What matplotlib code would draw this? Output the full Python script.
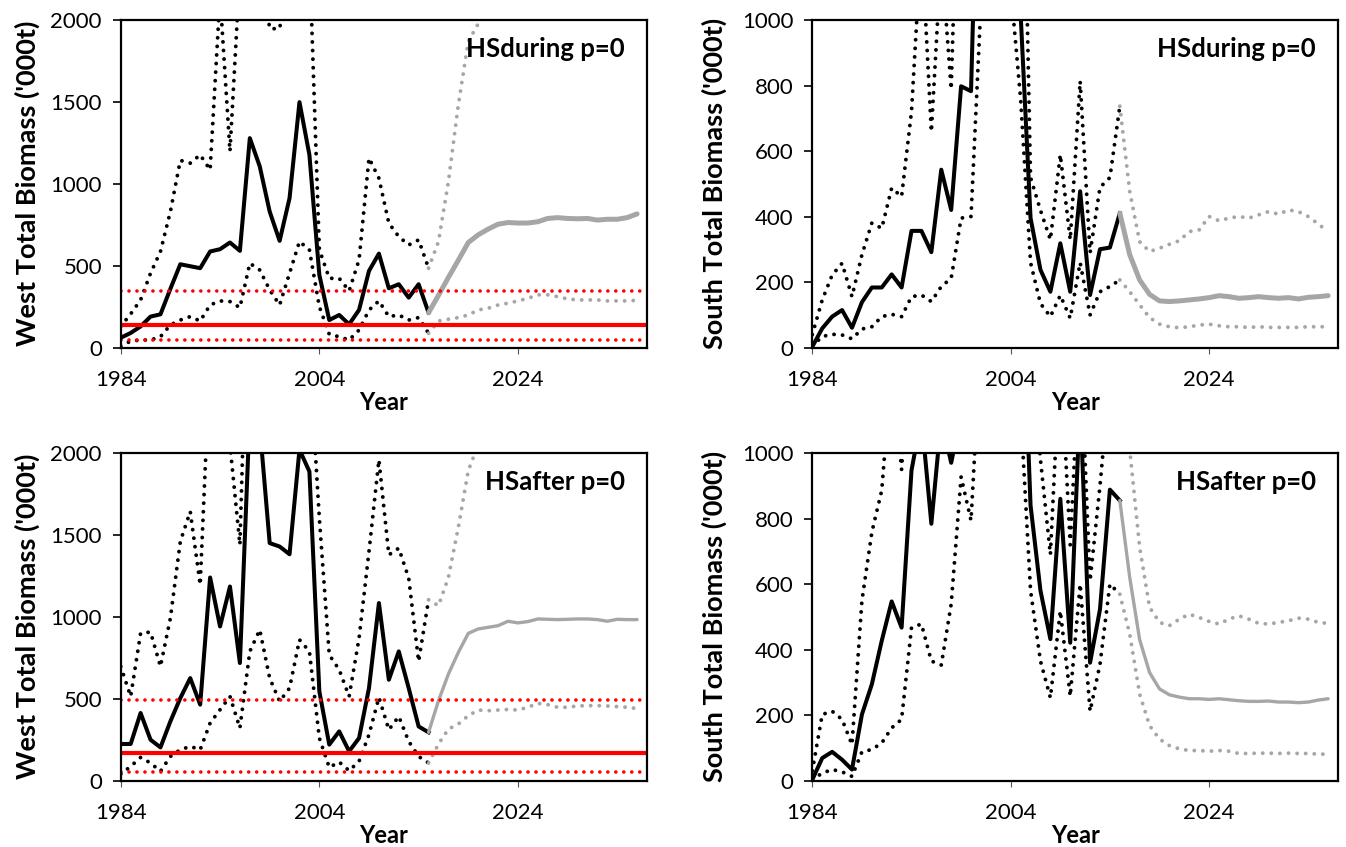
import matplotlib
matplotlib.use('Agg')
import matplotlib.pyplot as plt

plt.rcParams['font.family'] = ['Lato', 'DejaVu Sans']

hist_years = list(range(1984, 2016))
proj_years = list(range(2015, 2037))

# West total biomass, HSduring
wd_mid = [61, 90, 130, 190, 204, 360, 510, 498, 486, 588, 602, 643, 592, 1281, 1108, 832,
          653, 914, 1501, 1179, 445, 169, 200, 143, 231, 469, 575, 363, 388, 306, 388, 214]
wd_hi = [130, 206, 292, 455, 588, 832, 1145, 1128, 1179, 1087, 2150, 1200, 2300, 2600, 2400, 1950,
         1950, 2300, 2700, 2400, 600, 424, 424, 347, 537, 1159, 1036, 761, 679, 628, 659, 486]
wd_lo = [10, 40, 47, 47, 67, 139, 169, 190, 163, 261, 286, 282, 245, 516, 475, 353,
         261, 455, 649, 598, 251, 82, 67, 47, 108, 230, 286, 190, 200, 169, 184, 88]
wd_pmid = [214, 320, 430, 535, 643, 690, 725, 755, 765, 762, 762, 770, 790, 795, 790, 788,
           790, 780, 785, 785, 795, 818]
wd_phi = [486, 649, 1016, 1485, 1873, 1980, 2150, 2300, 2400, 2500, 2550, 2600, 2650, 2650,
          2700, 2700, 2700, 2700, 2750, 2750, 2750, 2750]
wd_plo = [88, 163, 174, 184, 200, 231, 241, 261, 272, 286, 302, 323, 323, 312, 298, 292,
          292, 292, 286, 286, 286, 290]
wd_ref = [140, 345, 45]

# South total biomass, HSduring
sd_mid = [3, 59, 95, 115, 61, 139, 184, 184, 224, 184, 357, 357, 292, 544, 421, 799,
          784, 1900, 2600, 2500, 2000, 1020, 396, 238, 171, 319, 171, 478, 161, 301, 306, 411]
sd_hi = [40, 146, 222, 258, 156, 284, 381, 365, 488, 462, 722, 1250, 660, 1200, 790, 1800,
         2500, 3000, 3000, 2800, 1800, 2000, 520, 420, 330, 590, 330, 815, 290, 490, 520, 738]
sd_lo = [5, 34, 41, 39, 27, 57, 64, 95, 102, 95, 156, 161, 141, 187, 212, 396,
         401, 1050, 1500, 1600, 1100, 760, 260, 135, 95, 160, 90, 260, 100, 171, 187, 207]
sd_pmid = [411, 284, 207, 163, 143, 141, 143, 146, 149, 153, 159, 156, 151, 153, 156, 153,
           151, 153, 149, 154, 156, 159]
sd_phi = [738, 477, 324, 294, 304, 316, 327, 355, 360, 401, 388, 396, 401, 396, 406, 416,
          408, 421, 416, 401, 378, 355]
sd_plo = [207, 171, 131, 92, 72, 64, 61, 64, 69, 72, 67, 64, 64, 62, 64, 62,
          62, 62, 62, 64, 64, 64]

# West total biomass, HSafter
wa_mid = [224, 224, 413, 250, 203, 362, 504, 626, 464, 1240, 941, 1185, 718, 2250, 2160, 1450,
          1429, 1382, 2020, 1887, 545, 220, 301, 179, 260, 565, 1084, 616, 789, 565, 331, 295]
wa_hi = [697, 514, 900, 907, 697, 992, 1460, 1643, 1195, 2600, 2400, 2050, 1440, 3500, 2800, 2900,
         2800, 2700, 2600, 2600, 1602, 768, 677, 514, 870, 1399, 1958, 1378, 1419, 1236, 728, 1104]
wa_lo = [40, 87, 142, 108, 57, 148, 189, 209, 189, 352, 433, 514, 321, 789, 921, 626,
         484, 565, 860, 789, 260, 81, 114, 61, 118, 281, 508, 311, 392, 240, 148, 108]
wa_pmid = [295, 488, 651, 783, 899, 926, 936, 946, 973, 963, 971, 987, 985, 983, 985, 987,
           987, 983, 973, 985, 983, 983]
wa_phi = [1104, 1068, 1241, 1547, 1893, 2050, 2300, 2500, 2600, 2700, 2750, 2800, 2800, 2850,
          2850, 2850, 2900, 2900, 2900, 2900, 2950, 2950]
wa_plo = [108, 224, 315, 346, 397, 431, 427, 431, 435, 431, 448, 472, 464, 448, 448, 456,
          458, 458, 456, 452, 448, 440]
wa_ref = [167, 494, 51]

# South total biomass, HSafter
sa_mid = [3, 69, 88, 64, 34, 202, 294, 427, 547, 467, 947, 1110, 784, 1106, 970, 1120,
          1800, 2200, 2400, 2200, 2000, 1640, 840, 580, 432, 860, 421, 1160, 360, 523, 888, 855]
sa_hi = [30, 202, 212, 187, 110, 549, 758, 886, 1266, 950, 1450, 2000, 2500, 2800, 3000, 3000,
         3000, 3000, 3000, 3000, 2500, 1800, 1300, 980, 690, 1310, 720, 1340, 610, 900, 1230, 1300]
sa_lo = [3, 23, 34, 27, 13, 88, 95, 115, 161, 187, 467, 478, 365, 353, 539, 927,
         794, 1350, 1700, 1800, 1500, 1130, 580, 365, 253, 518, 258, 600, 212, 355, 600, 569]
sa_pmid = [855, 620, 430, 330, 280, 262, 255, 250, 250, 248, 250, 247, 244, 242, 242, 243,
           240, 240, 238, 240, 246, 250]
sa_phi = [1300, 1010, 712, 529, 483, 473, 493, 508, 498, 486, 478, 493, 503, 493, 480, 478,
          483, 488, 496, 493, 483, 480]
sa_plo = [569, 447, 264, 168, 127, 107, 97, 92, 92, 90, 92, 90, 83, 83, 84, 84,
          83, 84, 83, 83, 81, 81]

x_ticks = [1984, 2004, 2024]
grey = '#A6A6A6'
dots = (0, (0.01, 2.2))

fig = plt.figure(figsize=(13.46, 8.47), dpi=100)


def panel(rect, ymax, ystep, mid, hi, lo, pmid, phi, plo, tag, ref=None, glw=3.6):
    ax = fig.add_axes(rect)
    ax.plot(hist_years, hi, color='black', lw=2.8, ls=dots, dash_capstyle='round')
    ax.plot(hist_years, lo, color='black', lw=2.8, ls=dots, dash_capstyle='round')
    ax.plot(proj_years, phi, color=grey, lw=2.8, ls=dots, dash_capstyle='round')
    ax.plot(proj_years, plo, color=grey, lw=2.8, ls=dots, dash_capstyle='round')
    ax.plot(hist_years, mid, color='black', lw=2.9)
    ax.plot(proj_years, pmid, color=grey, lw=glw, solid_capstyle='round')
    if ref:
        ax.axhline(ref[0], color='red', lw=3.0)
        ax.axhline(ref[1], color='red', lw=2.6, ls=dots, dash_capstyle='round')
        ax.axhline(ref[2], color='red', lw=2.6, ls=dots, dash_capstyle='round')
    ax.set_xlim(1984, 2037)
    ax.set_ylim(0, ymax)
    ax.set_xticks(x_ticks)
    ax.set_yticks(range(0, ymax + 1, ystep))
    ax.tick_params(axis='y', direction='out', length=5.5, width=1.2, pad=8, labelsize=16)
    ax.tick_params(axis='x', direction='out', length=4, width=0.8, color='#555555',
                   pad=12, labelsize=16)
    for s in ax.spines.values():
        s.set_linewidth(1.6)
    ax.text(0.958, 0.912, tag, transform=ax.transAxes, ha='right', va='center',
            fontsize=18.5, fontweight='bold')
    ax.text(0.5, -0.168, 'Year', transform=ax.transAxes, ha='center', va='center',
            fontsize=17, fontweight='bold')
    return ax


panel([0.0897, 0.5895, 0.391, 0.3863], 2000, 500, wd_mid, wd_hi, wd_lo,
      wd_pmid, wd_phi, wd_plo, 'HSduring p=0', wd_ref)
panel([0.6035, 0.5895, 0.3906, 0.3863], 1000, 200, sd_mid, sd_hi, sd_lo,
      sd_pmid, sd_phi, sd_plo, 'HSduring p=0')
panel([0.0897, 0.0783, 0.391, 0.3869], 2000, 500, wa_mid, wa_hi, wa_lo,
      wa_pmid, wa_phi, wa_plo, 'HSafter p=0', wa_ref, glw=2.4)
panel([0.6035, 0.0783, 0.3906, 0.3869], 1000, 200, sa_mid, sa_hi, sa_lo,
      sa_pmid, sa_phi, sa_plo, 'HSafter p=0', glw=2.4)

ylab_kw = dict(rotation=90, ha='center', va='center', fontsize=19.5, fontweight='bold')
fig.text(0.020, 0.783, "West Total Biomass ('000t)", **ylab_kw)
fig.text(0.531, 0.783, "South Total Biomass ('000t)", **ylab_kw)
fig.text(0.020, 0.272, "West Total Biomass ('000t)", **ylab_kw)
fig.text(0.531, 0.272, "South Total Biomass ('000t)", **ylab_kw)

fig.savefig('out.png', dpi=100)
